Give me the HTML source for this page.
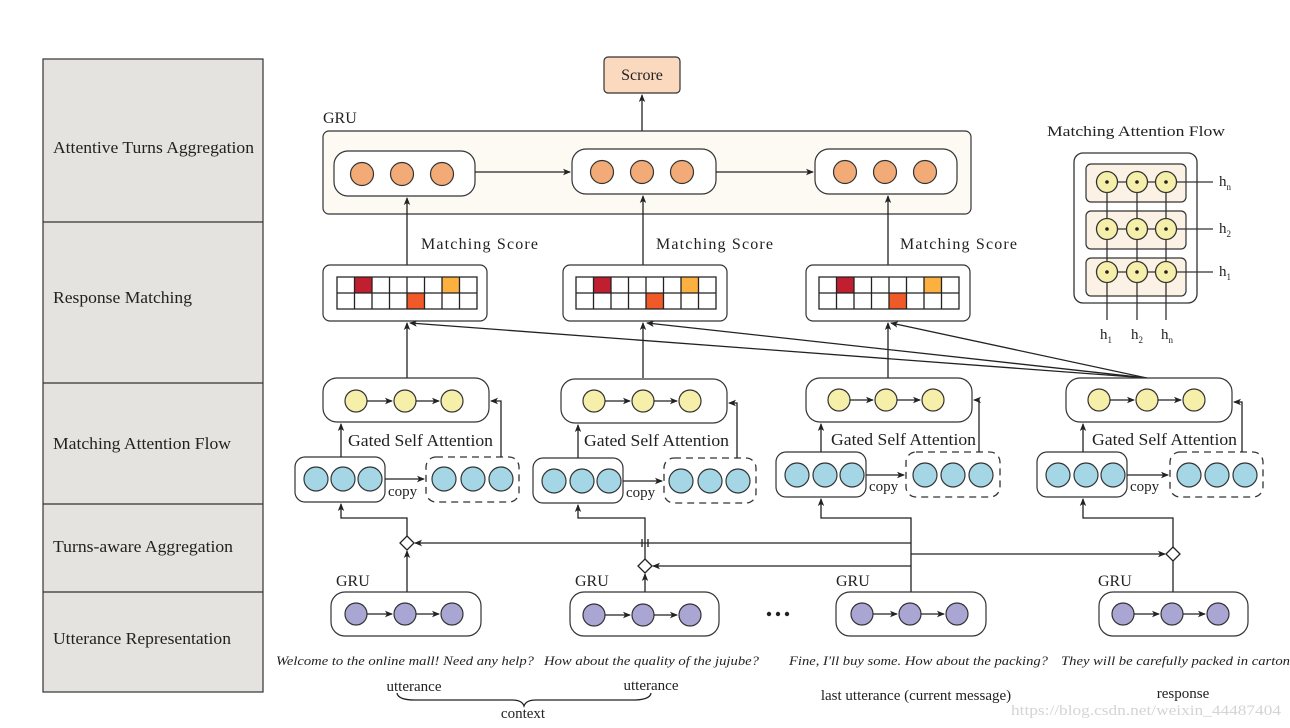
<!DOCTYPE html>
<html><head><meta charset="utf-8"><style>
html,body{margin:0;padding:0;background:#fff}
svg{display:block}
text{font-family:"Liberation Serif",serif;fill:#222}
</style></head><body>
<svg width="1290" height="728" viewBox="0 0 1290 728" xmlns="http://www.w3.org/2000/svg">
<defs>
<marker id="a" markerWidth="8" markerHeight="8" refX="7" refY="4" orient="auto" markerUnits="userSpaceOnUse"><path d="M0,0.8 L8,4 L0,7.2 L2,4z" fill="#222"/></marker>
<g id="or"><circle cx="0" cy="0" r="11.5" fill="#f2ab77" stroke="#333" stroke-width="1.2"/></g>
<g id="ye"><circle cx="0" cy="0" r="11" fill="#f6efaa" stroke="#333" stroke-width="1.2"/></g>
<g id="bl"><circle cx="0" cy="0" r="12" fill="#a5d6e6" stroke="#333" stroke-width="1.2"/></g>
<g id="pu"><circle cx="0" cy="0" r="11" fill="#a9a6d3" stroke="#333" stroke-width="1.2"/></g>
<g id="mf"><circle cx="0" cy="0" r="10.5" fill="#f6efaa" stroke="#333" stroke-width="1.3"/><circle r="1.8" fill="#222"/></g>
<g id="grid">
<rect x="0" y="0" width="140" height="32" fill="#fff"/>
<rect x="17.5" y="0" width="17.5" height="16" fill="#c01f2f"/>
<rect x="105" y="0" width="17.5" height="16" fill="#fbb03f"/>
<rect x="70" y="16" width="17.5" height="16" fill="#f05a28"/>
<path d="M0,0H140V32H0z M0,16H140 M17.5,0V32 M35,0V32 M52.5,0V32 M70,0V32 M87.5,0V32 M105,0V32 M122.5,0V32" fill="none" stroke="#222" stroke-width="1.3"/>
</g>
</defs>

<!-- left panel -->
<rect x="43" y="59" width="220" height="633" fill="#e4e3df" stroke="#333" stroke-width="1.2"/>
<path d="M43,222H263 M43,383H263 M43,504H263 M43,592H263" stroke="#333" stroke-width="1.2"/>
<text x="53" y="153" font-size="17" textLength="201" lengthAdjust="spacingAndGlyphs">Attentive Turns Aggregation</text>
<text x="53" y="303" font-size="17" textLength="139" lengthAdjust="spacingAndGlyphs">Response Matching</text>
<text x="53" y="449" font-size="17" textLength="178" lengthAdjust="spacingAndGlyphs">Matching Attention Flow</text>
<text x="53" y="552" font-size="17" textLength="180" lengthAdjust="spacingAndGlyphs">Turns-aware Aggregation</text>
<text x="53" y="644" font-size="17" textLength="178" lengthAdjust="spacingAndGlyphs">Utterance Representation</text>

<!-- Score -->
<rect x="604" y="57" width="76" height="36" rx="4" fill="#fbd9bf" stroke="#333" stroke-width="1.2"/>
<text x="642" y="80" font-size="16" text-anchor="middle">Scrore</text>
<line x1="642" y1="131" x2="642" y2="95" stroke="#222" stroke-width="1.3" marker-end="url(#a)"/>

<!-- GRU top -->
<text x="323" y="123" font-size="16">GRU</text>
<rect x="323" y="131" width="648" height="83" rx="6" fill="#fdfaf4" stroke="#333" stroke-width="1.2"/>
<rect x="334" y="151" width="141" height="45" rx="14" fill="#fff" stroke="#333" stroke-width="1.2"/>
<rect x="572" y="149" width="144" height="45" rx="14" fill="#fff" stroke="#333" stroke-width="1.2"/>
<rect x="815" y="149" width="142" height="45" rx="14" fill="#fff" stroke="#333" stroke-width="1.2"/>
<use href="#or" x="362" y="174"/><use href="#or" x="402" y="174"/><use href="#or" x="442" y="174"/>
<use href="#or" x="602" y="172"/><use href="#or" x="642" y="172"/><use href="#or" x="682" y="172"/>
<use href="#or" x="845" y="172"/><use href="#or" x="885" y="172"/><use href="#or" x="925" y="172"/>
<line x1="475" y1="172" x2="570" y2="172" stroke="#222" stroke-width="1.3" marker-end="url(#a)"/>
<line x1="716" y1="172" x2="813" y2="172" stroke="#222" stroke-width="1.3" marker-end="url(#a)"/>

<!-- matching score -->
<text x="421" y="249" font-size="16" textLength="117" lengthAdjust="spacing">Matching  Score</text>
<text x="656" y="249" font-size="16" textLength="117" lengthAdjust="spacing">Matching  Score</text>
<text x="900" y="249" font-size="16" textLength="117" lengthAdjust="spacing">Matching  Score</text>
<line x1="407" y1="265" x2="407" y2="198" stroke="#222" stroke-width="1.3" marker-end="url(#a)"/>
<line x1="643" y1="265" x2="643" y2="196" stroke="#222" stroke-width="1.3" marker-end="url(#a)"/>
<line x1="888" y1="265" x2="888" y2="196" stroke="#222" stroke-width="1.3" marker-end="url(#a)"/>
<rect x="323" y="265" width="164" height="56" rx="7" fill="#fff" stroke="#333" stroke-width="1.2"/>
<rect x="563" y="265" width="164" height="56" rx="7" fill="#fff" stroke="#333" stroke-width="1.2"/>
<rect x="806" y="265" width="164" height="56" rx="7" fill="#fff" stroke="#333" stroke-width="1.2"/>
<use href="#grid" x="337" y="277"/><use href="#grid" x="576" y="277"/><use href="#grid" x="819" y="277"/>
<line x1="407" y1="378" x2="407" y2="323" stroke="#222" stroke-width="1.3" marker-end="url(#a)"/>
<line x1="643" y1="378" x2="643" y2="323" stroke="#222" stroke-width="1.3" marker-end="url(#a)"/>
<line x1="888" y1="378" x2="888" y2="323" stroke="#222" stroke-width="1.3" marker-end="url(#a)"/>
<line x1="1147" y1="378" x2="410" y2="323" stroke="#222" stroke-width="1.3" marker-end="url(#a)"/>
<line x1="1147" y1="378" x2="647" y2="323" stroke="#222" stroke-width="1.3" marker-end="url(#a)"/>
<line x1="1147" y1="378" x2="891" y2="323" stroke="#222" stroke-width="1.3" marker-end="url(#a)"/>

<!-- yellow boxes -->
<g stroke="#333" stroke-width="1.2" fill="#fff">
<rect x="323" y="378" width="166" height="44" rx="14"/>
<rect x="561" y="379" width="166" height="44" rx="14"/>
<rect x="806" y="378" width="166" height="44" rx="14"/>
<rect x="1066" y="378" width="166" height="44" rx="14"/>
</g>
<use href="#ye" x="356" y="401"/><use href="#ye" x="405" y="401"/><use href="#ye" x="452" y="401"/>
<use href="#ye" x="594" y="401"/><use href="#ye" x="643" y="401"/><use href="#ye" x="690" y="401"/>
<use href="#ye" x="839" y="400"/><use href="#ye" x="886" y="400"/><use href="#ye" x="933" y="400"/>
<use href="#ye" x="1099" y="400"/><use href="#ye" x="1147" y="400"/><use href="#ye" x="1194" y="400"/>
<g stroke="#222" stroke-width="1.3" fill="none">
<line x1="367" y1="401" x2="392" y2="401" marker-end="url(#a)"/><line x1="416" y1="401" x2="439" y2="401" marker-end="url(#a)"/>
<line x1="605" y1="401" x2="630" y2="401" marker-end="url(#a)"/><line x1="654" y1="401" x2="677" y2="401" marker-end="url(#a)"/>
<line x1="850" y1="400" x2="873" y2="400" marker-end="url(#a)"/><line x1="897" y1="400" x2="920" y2="400" marker-end="url(#a)"/>
<line x1="1110" y1="400" x2="1134" y2="400" marker-end="url(#a)"/><line x1="1158" y1="400" x2="1181" y2="400" marker-end="url(#a)"/>
</g>
<text x="348" y="446" font-size="17" textLength="145" lengthAdjust="spacingAndGlyphs">Gated Self Attention</text>
<text x="584" y="446" font-size="17" textLength="145" lengthAdjust="spacingAndGlyphs">Gated Self Attention</text>
<text x="831" y="445" font-size="17" textLength="145" lengthAdjust="spacingAndGlyphs">Gated Self Attention</text>
<text x="1092" y="445" font-size="17" textLength="145" lengthAdjust="spacingAndGlyphs">Gated Self Attention</text>

<!-- blue boxes -->
<g stroke="#333" stroke-width="1.2" fill="#fff">
<rect x="295" y="457" width="90" height="45" rx="10"/>
<rect x="533" y="458" width="90" height="45" rx="10"/>
<rect x="776" y="452" width="90" height="45" rx="10"/>
<rect x="1037" y="452" width="90" height="45" rx="10"/>
</g>
<g stroke="#333" stroke-width="1.3" fill="none" stroke-dasharray="7,5">
<rect x="426" y="457" width="93" height="45" rx="10"/>
<rect x="664" y="458" width="92" height="45" rx="10"/>
<rect x="906" y="452" width="94" height="45" rx="10"/>
<rect x="1170" y="452" width="93" height="45" rx="10"/>
</g>
<use href="#bl" x="316" y="479"/><use href="#bl" x="343" y="479"/><use href="#bl" x="370" y="479"/>
<use href="#bl" x="444" y="479"/><use href="#bl" x="473" y="479"/><use href="#bl" x="501" y="479"/>
<use href="#bl" x="554" y="481"/><use href="#bl" x="582" y="481"/><use href="#bl" x="609" y="481"/>
<use href="#bl" x="681" y="481"/><use href="#bl" x="710" y="481"/><use href="#bl" x="738" y="481"/>
<use href="#bl" x="797" y="475"/><use href="#bl" x="825" y="475"/><use href="#bl" x="852" y="475"/>
<use href="#bl" x="925" y="475"/><use href="#bl" x="953" y="475"/><use href="#bl" x="981" y="475"/>
<use href="#bl" x="1058" y="475"/><use href="#bl" x="1086" y="475"/><use href="#bl" x="1113" y="475"/>
<use href="#bl" x="1189" y="475"/><use href="#bl" x="1217" y="475"/><use href="#bl" x="1245" y="475"/>
<text x="388" y="496" font-size="15">copy</text>
<text x="626" y="497" font-size="15">copy</text>
<text x="869" y="491" font-size="15">copy</text>
<text x="1130" y="491" font-size="15">copy</text>
<g stroke="#222" stroke-width="1.3" fill="none">
<line x1="385" y1="479" x2="424" y2="479" marker-end="url(#a)"/>
<line x1="623" y1="481" x2="662" y2="481" marker-end="url(#a)"/>
<line x1="866" y1="475" x2="904" y2="475" marker-end="url(#a)"/>
<line x1="1127" y1="475" x2="1168" y2="475" marker-end="url(#a)"/>
<line x1="341" y1="457" x2="341" y2="424" marker-end="url(#a)"/>
<line x1="578" y1="458" x2="578" y2="425" marker-end="url(#a)"/>
<line x1="821" y1="452" x2="821" y2="424" marker-end="url(#a)"/>
<line x1="1083" y1="452" x2="1083" y2="424" marker-end="url(#a)"/>
<polyline points="501,457 501,401 491,401" marker-end="url(#a)"/>
<polyline points="737,458 737,403 729,403" marker-end="url(#a)"/>
<polyline points="979,452 979,400 974,400" marker-end="url(#a)"/>
<polyline points="1242,452 1242,402 1234,402" marker-end="url(#a)"/>
<polyline points="407,537 407,518 341,518 341,504" marker-end="url(#a)"/>
<polyline points="645,560 645,518 578,518 578,505" marker-end="url(#a)"/>
<polyline points="911,592 911,518 821,518 821,499" marker-end="url(#a)"/>
<polyline points="1173,548 1173,518 1083,518 1083,499" marker-end="url(#a)"/>
<line x1="407" y1="592" x2="407" y2="551" marker-end="url(#a)"/>
<line x1="645" y1="592" x2="645" y2="574" marker-end="url(#a)"/>
<line x1="1173" y1="592" x2="1173" y2="560"/>
<line x1="911" y1="543" x2="415" y2="543" marker-end="url(#a)"/>
<line x1="911" y1="566" x2="653" y2="566" marker-end="url(#a)"/>
<line x1="911" y1="554" x2="1165" y2="554" marker-end="url(#a)"/>
<path d="M642,539V547 M648,539V547"/>
</g>
<g fill="#fff" stroke="#222" stroke-width="1.3">
<path d="M407,536 L414,543 L407,550 L400,543z"/>
<path d="M645,559 L652,566 L645,573 L638,566z"/>
<path d="M1173,547 L1180,554 L1173,561 L1166,554z"/>
</g>

<!-- bottom GRU -->
<text x="336" y="586" font-size="16">GRU</text>
<text x="575" y="586" font-size="16">GRU</text>
<text x="836" y="586" font-size="16">GRU</text>
<text x="1098" y="586" font-size="16">GRU</text>
<g stroke="#333" stroke-width="1.2" fill="#fff">
<rect x="331" y="592" width="150" height="44" rx="14"/>
<rect x="570" y="592" width="149" height="44" rx="14"/>
<rect x="836" y="592" width="150" height="44" rx="14"/>
<rect x="1099" y="592" width="149" height="44" rx="14"/>
</g>
<use href="#pu" x="356" y="614"/><use href="#pu" x="405" y="614"/><use href="#pu" x="452" y="614"/>
<use href="#pu" x="594" y="615"/><use href="#pu" x="643" y="615"/><use href="#pu" x="690" y="615"/>
<use href="#pu" x="862" y="614"/><use href="#pu" x="910" y="614"/><use href="#pu" x="957" y="614"/>
<use href="#pu" x="1123" y="614"/><use href="#pu" x="1172" y="614"/><use href="#pu" x="1218" y="614"/>
<g stroke="#222" stroke-width="1.3">
<line x1="367" y1="614" x2="392" y2="614" marker-end="url(#a)"/><line x1="416" y1="614" x2="439" y2="614" marker-end="url(#a)"/>
<line x1="605" y1="615" x2="630" y2="615" marker-end="url(#a)"/><line x1="654" y1="615" x2="677" y2="615" marker-end="url(#a)"/>
<line x1="873" y1="614" x2="897" y2="614" marker-end="url(#a)"/><line x1="921" y1="614" x2="944" y2="614" marker-end="url(#a)"/>
<line x1="1134" y1="614" x2="1159" y2="614" marker-end="url(#a)"/><line x1="1183" y1="614" x2="1205" y2="614" marker-end="url(#a)"/>
</g>
<circle cx="769" cy="614" r="2.2" fill="#222"/><circle cx="778" cy="614" r="2.2" fill="#222"/><circle cx="787" cy="614" r="2.2" fill="#222"/>

<!-- bottom text -->
<g font-style="italic" font-size="13">
<text x="276" y="665" textLength="258" lengthAdjust="spacingAndGlyphs">Welcome to the online mall! Need any help?</text>
<text x="544" y="665" textLength="215" lengthAdjust="spacingAndGlyphs">How about the quality of the jujube?</text>
<text x="789" y="665" textLength="259" lengthAdjust="spacingAndGlyphs">Fine, I'll buy some. How about the packing?</text>
<text x="1061" y="665" textLength="229" lengthAdjust="spacingAndGlyphs">They will be carefully packed in carton</text>
</g>
<text x="414" y="691" font-size="15" text-anchor="middle">utterance</text>
<text x="651" y="690" font-size="15" text-anchor="middle">utterance</text>
<path d="M397,693 Q398,700 415,700 L512,700 Q522,700 524,706 Q526,700 536,700 L633,700 Q650,700 651,693" fill="none" stroke="#222" stroke-width="1.3"/>
<text x="523" y="718" font-size="15" text-anchor="middle">context</text>
<text x="916" y="700" font-size="15" text-anchor="middle">last utterance (current message)</text>
<text x="1183" y="698" font-size="15" text-anchor="middle">response</text>
<text x="1281" y="715" font-size="15" text-anchor="end" style="fill:#d4d4d4" font-family="Liberation Sans" textLength="270" lengthAdjust="spacingAndGlyphs">https://blog.csdn.net/weixin_44487404</text>

<!-- MAF inset -->
<text x="1047" y="136" font-size="15" textLength="178" lengthAdjust="spacingAndGlyphs">Matching Attention Flow</text>
<rect x="1074" y="153" width="123" height="150" rx="9" fill="#fff" stroke="#333" stroke-width="1.3"/>
<g fill="#fbf1e5" stroke="#333" stroke-width="1.2">
<rect x="1086" y="164" width="100" height="38" rx="5"/>
<rect x="1086" y="211" width="100" height="38" rx="5"/>
<rect x="1086" y="258" width="100" height="38" rx="5"/>
</g>
<g stroke="#333" stroke-width="1.3">
<path d="M1107,182V320 M1137,182V320 M1166,182V320 M1107,182H1213 M1107,229H1213 M1107,272H1213"/>
</g>
<use href="#mf" x="1107" y="182"/><use href="#mf" x="1137" y="182"/><use href="#mf" x="1166" y="182"/>
<use href="#mf" x="1107" y="229"/><use href="#mf" x="1137" y="229"/><use href="#mf" x="1166" y="229"/>
<use href="#mf" x="1107" y="272"/><use href="#mf" x="1137" y="272"/><use href="#mf" x="1166" y="272"/>
<g font-size="15">
<text x="1219" y="186">h<tspan font-size="9" dy="4">n</tspan></text>
<text x="1219" y="233">h<tspan font-size="9" dy="4">2</tspan></text>
<text x="1219" y="276">h<tspan font-size="9" dy="4">1</tspan></text>
<text x="1100" y="339">h<tspan font-size="9" dy="4">1</tspan></text>
<text x="1131" y="339">h<tspan font-size="9" dy="4">2</tspan></text>
<text x="1161" y="339">h<tspan font-size="9" dy="4">n</tspan></text>
</g>
</svg>
</body></html>
